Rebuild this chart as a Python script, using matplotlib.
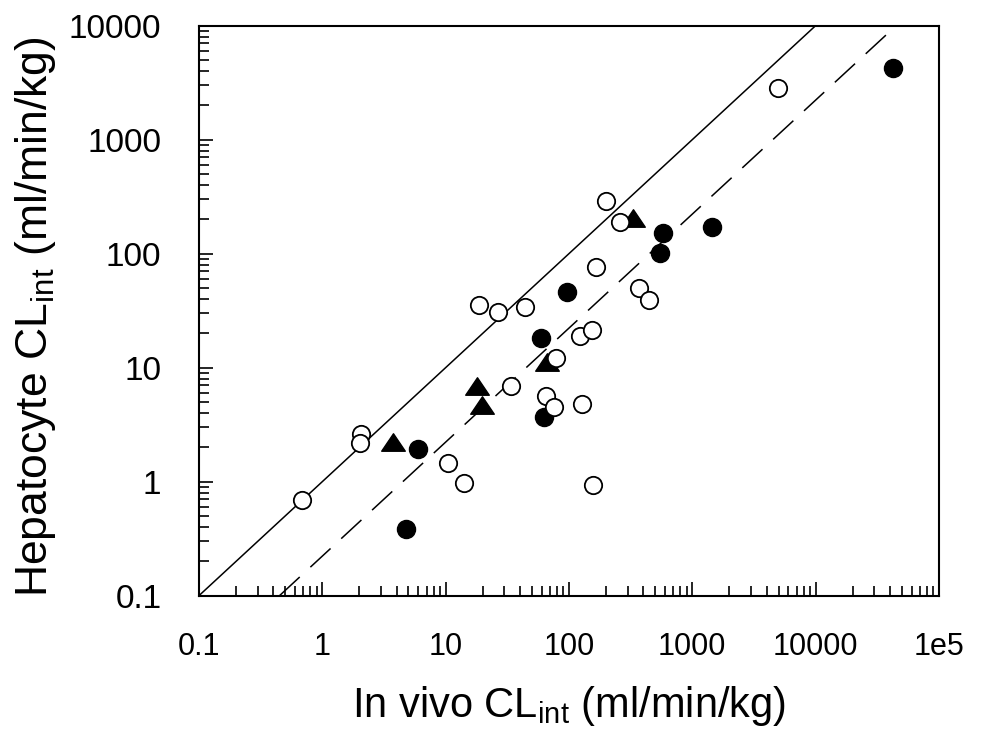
"""Hepatocyte vs in vivo intrinsic clearance, log-log scatter."""
import matplotlib
matplotlib.use('Agg')
import matplotlib.pyplot as plt
from matplotlib.path import Path
from matplotlib.ticker import LogLocator, NullFormatter

plt.rcParams['font.family'] = ['Liberation Sans', 'DejaVu Sans']
plt.rcParams['mathtext.fontset'] = 'custom'
plt.rcParams['mathtext.rm'] = 'Liberation Sans'

# open circles
open_x = [0.69, 2.06, 2.02, 10.5, 14.1, 18.6, 26.4, 44, 33.9, 65, 75, 127,
          157, 78.5, 123, 155, 166, 199, 259, 372, 448, 4980]
open_y = [0.69, 2.6, 2.17, 1.45, 0.97, 35.5, 30.6, 33.9, 6.9, 5.65, 4.5, 4.8,
          0.93, 12.2, 19.1, 21.4, 76, 290, 191, 49.7, 39.3, 2825]

# filled circles
filled_x = [4.77, 6.0, 62.7, 59.7, 96.9, 582, 547, 1440, 42170]
filled_y = [0.385, 1.92, 3.67, 18.3, 46.4, 151, 101, 171, 4230]

# filled triangles
tri_x = [3.76, 17.9, 19.6, 65.9, 332]
tri_y = [2.22, 6.9, 4.7, 11.1, 205]

# unity line and the dashed line below it
line_x = [0.1, 1e5]
dashed_factor = 4.5

x_ticks = [0.1, 1, 10, 100, 1000, 10000, 1e5]
x_tick_labels = ['0.1', '1', '10', '100', '1000', '10000', '1e5']
y_ticks = [0.1, 1, 10, 100, 1000, 10000]
y_tick_labels = ['0.1', '1', '10', '100', '1000', '10000']

fig = plt.figure(figsize=(9.83, 7.43), dpi=100)
ax = fig.add_axes([0.2024, 0.1983, 0.7528, 0.7672])

ax.plot(line_x, line_x, color='black', lw=1.1, zorder=2)
# dashed line starts where it enters the axes (y = 0.1)
ax.plot([0.1 * dashed_factor, line_x[1]],
        [0.1, line_x[1] / dashed_factor],
        color='black', lw=1.1, ls=(0, (18, 9.5)), zorder=2)

# wider-than-tall triangle like the original
tri_marker = Path([(0, 0.74), (-1, -0.74), (1, -0.74), (0, 0.74)],
                  [Path.MOVETO, Path.LINETO, Path.LINETO, Path.CLOSEPOLY])

ax.plot(filled_x, filled_y, ls='', marker='o', ms=13, mfc='black',
        mec='black', zorder=3)
ax.plot(tri_x, tri_y, ls='', marker=tri_marker, ms=17, mfc='black',
        mec='black', zorder=4)
ax.plot(open_x, open_y, ls='', marker='o', ms=12.5, mfc='white',
        mec='black', mew=1.3, zorder=5)

ax.set_xscale('log')
ax.set_yscale('log')
ax.set_xlim(0.1, 1e5)
ax.set_ylim(0.1, 10000)

ax.set_xticks(x_ticks)
ax.set_xticklabels(x_tick_labels)
ax.set_yticks(y_ticks)
ax.set_yticklabels(y_tick_labels)
ax.xaxis.set_minor_locator(LogLocator(base=10, subs=range(2, 10)))
ax.yaxis.set_minor_locator(LogLocator(base=10, subs=range(2, 10)))
ax.xaxis.set_minor_formatter(NullFormatter())
ax.yaxis.set_minor_formatter(NullFormatter())

ax.tick_params(which='both', direction='in', top=False, right=False,
               width=1.2, color='black')
ax.tick_params(which='major', length=10)
ax.tick_params(which='minor', length=7)
ax.tick_params(axis='x', which='major', labelsize=22, pad=26)
ax.tick_params(axis='y', which='major', labelsize=24, pad=27)

for spine in ax.spines.values():
    spine.set_linewidth(1.5)
    spine.set_color('black')

ax.set_xlabel('In vivo CL$_{\\mathrm{int}}$ (ml/min/kg)', fontsize=30)
ax.set_ylabel('Hepatocyte CL$_{\\mathrm{int}}$ (ml/min/kg)', fontsize=32)
ax.xaxis.set_label_coords(0.5, -0.155)
ax.yaxis.set_label_coords(-0.19, 0.49)

plt.grid(False)
fig.savefig('out.png', dpi=100)
